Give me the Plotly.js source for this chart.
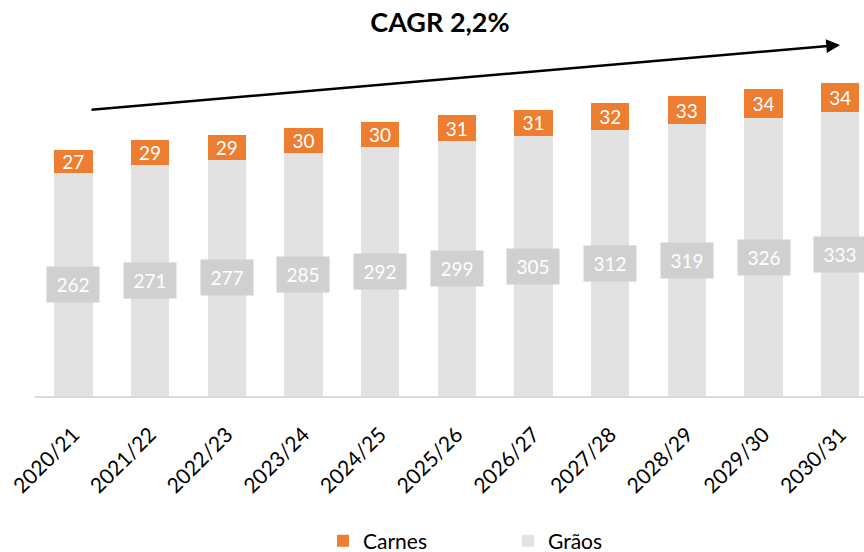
<!DOCTYPE html>
<html>
<head>
<meta charset="utf-8">
<script src="https://cdn.plot.ly/plotly-3.0.1.min.js"></script>
<style>html,body{margin:0;padding:0;background:#fff;}#chart{width:864px;height:552px;}</style>
</head>
<body>
<div id="chart"></div>
<script>
var years = ["2020/21","2021/22","2022/23","2023/24","2024/25","2025/26","2026/27","2027/28","2028/29","2029/30","2030/31"];
var carnes = [27,29,29,30,30,31,31,32,33,34,34];
var graos = [262,271,277,285,292,299,305,312,319,326,333];
var titleText = "CAGR 2,2%";

var FONT = "Lato, 'Open Sans', sans-serif";

var traceGraos = {
  type: "bar", name: "Grãos", x: years, y: graos,
  marker: {color: "#E2E2E2"}, width: 0.5,
  hoverinfo: "x+y"
};
var traceCarnes = {
  type: "bar", name: "Carnes", x: years, y: carnes,
  marker: {color: "#ED7D31"}, width: 0.5,
  text: carnes.map(String), textposition: "inside", insidetextanchor: "middle",
  textangle: 0, constraintext: "none",
  textfont: {color: "#FFFFFF", size: 19, family: FONT},
  hoverinfo: "x+y"
};

var annotations = years.map(function (yr, i) {
  return {
    x: yr, y: graos[i] / 2, xref: "x", yref: "y",
    text: String(graos[i]), showarrow: false,
    bgcolor: "#D0D0D0", width: 50, height: 33,
    font: {color: "#FFFFFF", size: 19, family: FONT}
  };
});
annotations.push({
  xref: "paper", yref: "paper",
  x: (840 - 35) / 829, y: (396 - 45) / 356,
  axref: "pixel", ayref: "pixel",
  ax: -750, ay: 65,
  showarrow: true, arrowhead: 2, arrowsize: 1.1, arrowwidth: 2.5, arrowcolor: "#000000",
  text: ""
});

var layout = {
  width: 864, height: 552,
  margin: {l: 35, r: 0, t: 40, b: 156},
  paper_bgcolor: "#FFFFFF", plot_bgcolor: "#FFFFFF",
  barmode: "stack",
  font: {family: FONT, color: "#000000"},
  title: {
    text: "<b>" + titleText + "</b>",
    x: 440 / 864, xref: "container", xanchor: "center",
    y: 1 - 23 / 552, yref: "container", yanchor: "middle",
    font: {size: 27, family: FONT, color: "#000000"}
  },
  xaxis: {
    type: "category", range: [-0.5, 10.31], automargin: false,
    showline: true, linecolor: "#D9D9D9", linewidth: 2,
    ticks: "", tickangle: -45, showgrid: false, ticklabelstandoff: 16,
    tickfont: {size: 21, family: FONT, color: "#000000"}
  },
  yaxis: {
    range: [0, 417.8], visible: false, showgrid: false, zeroline: false
  },
  showlegend: true,
  legend: {
    orientation: "h", x: 0.5 + 76 / 864, xanchor: "center", xref: "container",
    y: 1 - 541 / 552, yref: "container", yanchor: "middle",
    traceorder: "reversed",
    entrywidth: 140, entrywidthmode: "pixels",
    font: {size: 21, family: FONT, color: "#000000"}
  },
  annotations: annotations
};

Plotly.newPlot("chart", [traceGraos, traceCarnes], layout, {displayModeBar: false, staticPlot: true});
</script>
</body>
</html>
